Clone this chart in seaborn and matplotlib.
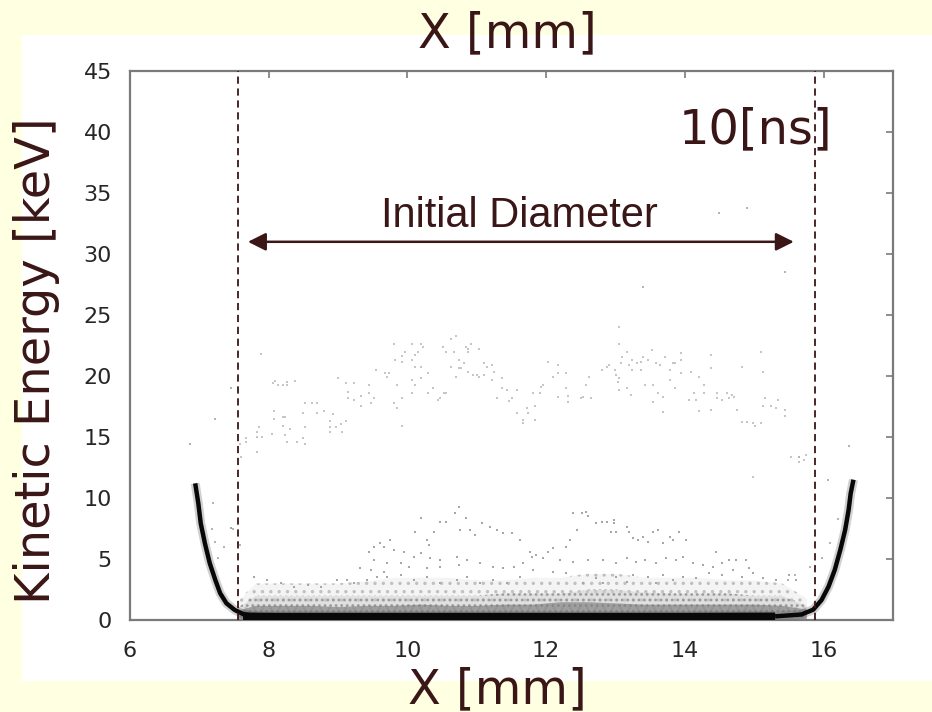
import numpy as np
import pandas as pd
import matplotlib
matplotlib.use("Agg")
import matplotlib.pyplot as plt
from matplotlib.patches import Rectangle
import seaborn as sns

# ---- particle snapshot at 10 ns: kinetic energy [keV] vs position X [mm] ----

# sparse fast particles, 13-24 keV band (x [mm], E [keV])
upper_cloud = [
    (7.89, 21.78), (7.58, 14.43), (7.60, 13.39), (7.67, 14.89), (7.67, 14.62), (7.83, 15.44), (7.83, 15.03),
    (7.86, 15.85), (7.83, 13.77), (7.90, 15.03), (8.05, 15.22), (8.08, 16.45), (8.08, 17.16), (8.06, 19.45),
    (8.09, 19.62), (8.13, 19.26), (8.20, 19.26), (8.27, 19.54), (8.27, 19.26), (8.38, 19.59), (8.20, 16.67),
    (8.23, 16.67), (8.20, 15.90), (8.23, 15.16), (8.27, 14.62), (8.30, 15.63), (8.41, 14.62), (8.49, 14.89),
    (8.52, 14.40), (8.52, 15.85), (8.49, 16.94), (8.52, 17.76), (8.63, 17.76), (8.70, 17.76), (8.70, 16.94),
    (8.79, 17.16), (8.89, 16.34), (8.89, 15.85), (8.89, 15.44), (8.97, 15.85), (9.04, 16.07), (9.05, 15.44),
    (9.11, 16.34), (8.93, 16.89), (9.00, 19.86), (9.11, 19.45), (9.15, 18.72), (9.15, 18.17), (9.23, 19.45),
    (9.23, 18.03), (9.33, 18.36), (9.33, 17.54), (9.44, 19.26), (9.44, 18.63), (9.48, 17.76), (9.52, 18.17),
    (9.55, 20.49), (9.68, 20.22), (9.71, 19.89), (9.74, 20.27), (9.81, 22.60), (9.82, 21.31), (9.85, 19.26),
    (9.81, 17.76), (9.85, 17.35), (9.92, 21.17), (9.92, 18.22), (9.92, 15.90), (9.92, 21.64), (9.96, 21.99),
    (10.07, 22.60), (10.07, 21.31), (10.07, 19.67), (10.07, 18.58), (10.11, 19.26), (10.11, 20.76),
    (10.11, 21.72), (10.15, 21.99), (10.19, 22.60), (10.22, 22.40), (10.19, 20.76), (10.19, 19.81),
    (10.29, 20.22), (10.29, 18.58), (10.37, 19.04), (10.44, 18.03), (10.47, 18.22), (10.52, 18.63),
    (10.56, 18.63), (10.51, 22.40), (10.56, 21.99), (10.63, 23.01), (10.70, 23.28), (10.63, 20.76),
    (10.67, 21.99), (10.70, 19.89), (10.74, 21.31), (10.74, 20.68), (10.77, 20.68), (10.81, 21.09),
    (10.85, 22.40), (10.88, 22.19), (10.88, 21.99), (10.92, 22.62), (10.88, 20.36), (10.95, 20.08),
    (11.03, 22.19), (11.00, 20.08), (11.03, 19.89), (11.11, 20.08), (11.11, 21.04), (11.14, 20.71),
    (11.22, 20.90), (11.22, 19.67), (11.25, 20.30), (11.29, 18.22), (11.36, 19.81), (11.36, 19.04),
    (11.43, 18.85), (11.47, 17.95), (11.50, 18.22), (11.58, 18.85), (11.58, 16.94), (11.66, 16.39),
    (11.66, 16.12), (11.72, 17.35), (11.74, 16.94), (11.81, 18.63), (11.84, 17.54), (11.84, 16.39),
    (11.91, 18.63), (11.92, 19.13), (11.96, 19.26), (12.03, 21.12), (12.10, 19.89), (12.17, 20.90),
    (12.17, 20.22), (12.17, 18.31), (12.28, 20.22), (12.28, 18.99), (12.32, 18.36), (12.32, 17.90),
    (12.50, 18.17), (12.53, 18.25), (12.58, 19.26), (12.62, 19.89), (12.65, 18.17), (12.80, 20.49),
    (12.87, 20.71), (12.91, 20.90), (12.99, 20.49), (13.01, 20.08), (13.03, 19.54), (13.05, 19.81),
    (13.05, 18.85), (13.08, 21.09), (13.10, 21.53), (13.17, 21.99), (13.17, 18.99), (13.20, 20.90),
    (13.23, 18.44), (13.24, 21.31), (13.24, 20.49), (13.31, 21.04), (13.36, 21.12), (13.36, 20.49),
    (13.40, 21.53), (13.43, 19.26), (13.47, 21.31), (13.53, 22.13), (13.54, 19.26), (13.54, 17.90),
    (13.58, 21.04), (13.61, 18.63), (13.64, 20.90), (13.68, 18.31), (13.68, 17.08), (13.72, 21.53),
    (13.79, 20.49), (13.79, 19.67), (13.83, 21.09), (13.86, 21.04), (13.86, 18.99), (13.94, 21.86),
    (13.94, 21.31), (13.94, 20.22), (14.06, 18.03), (14.09, 20.30), (14.13, 18.63), (14.16, 18.03),
    (14.20, 19.89), (14.20, 17.16), (14.27, 19.26), (14.28, 18.63), (14.38, 21.72), (14.38, 20.63),
    (14.38, 17.21), (14.46, 18.63), (14.46, 18.17), (14.54, 18.03), (14.60, 18.63), (14.64, 18.17),
    (14.68, 18.44), (14.71, 18.25), (14.75, 17.21), (14.83, 20.76), (14.83, 16.26), (14.90, 16.26),
    (14.98, 16.12), (15.01, 15.90), (15.09, 21.99), (15.09, 16.12), (15.12, 20.30), (15.12, 17.54),
    (15.16, 18.22), (15.24, 17.54), (15.31, 17.35), (15.34, 18.03), (15.45, 17.21), (15.45, 16.72),
    (15.53, 13.39), (15.64, 12.98), (15.71, 13.11), (15.75, 13.52), (14.98, 11.75), (13.05, 23.99),
    (13.05, 22.62),
]

# isolated particles far from the main populations
stray_points = [
    (14.49, 33.4), (14.89, 33.8), (15.44, 28.5), (13.39, 27.3), (6.86, 14.4), (7.22, 16.5),
    (7.45, 19.0), (16.37, 14.3), (15.64, 13.4), (7.20, 9.56), (7.18, 7.43), (7.23, 6.42),
    (7.35, 6.01), (7.49, 7.43), (7.59, 6.15), (7.27, 5.06), (16.07, 11.48), (16.21, 8.25),
    (15.97, 5.05), (15.80, 4.37), (15.59, 3.69), (15.49, 3.28), (16.09, 6.28),
]

# moderately energetic particles, 3-9 keV
middle_cloud = [
    (10.74, 9.29), (10.69, 8.75), (10.85, 8.34), (10.19, 8.34), (10.47, 8.06), (10.55, 8.06), (11.07, 7.93),
    (11.19, 7.65), (11.29, 7.38), (11.38, 7.11), (11.50, 7.11), (11.62, 6.56), (10.11, 7.25), (10.38, 7.25),
    (10.28, 6.56), (10.31, 6.15), (10.76, 7.38), (10.90, 7.38), (10.98, 6.97), (9.75, 6.56), (9.61, 6.29),
    (9.66, 6.02), (9.52, 6.02), (9.44, 5.61), (9.80, 5.74), (9.95, 5.61), (10.09, 5.20), (10.19, 5.47),
    (10.33, 5.06), (10.47, 4.92), (10.71, 5.20), (10.86, 4.92), (11.05, 4.65), (11.24, 4.38), (11.38, 4.24),
    (11.53, 4.38), (9.52, 4.92), (9.71, 4.65), (9.90, 4.65), (10.02, 4.38), (10.28, 4.24), (10.47, 4.38),
    (10.74, 4.51), (9.32, 4.24), (9.47, 4.10), (9.66, 3.96), (7.55, 6.29), (7.46, 7.52), (7.79, 3.56),
    (7.98, 3.28), (8.17, 3.01), (8.37, 2.74), (8.56, 2.87), (8.75, 2.74), (8.99, 3.28), (9.13, 3.28),
    (9.23, 3.01), (9.42, 3.28), (9.56, 3.56), (9.71, 3.56), (9.90, 3.69), (10.09, 3.28), (10.28, 3.56),
    (10.47, 3.01), (10.71, 3.28), (10.86, 3.56), (11.05, 3.01), (11.24, 3.28), (11.43, 3.01), (11.62, 3.56),
    (12.39, 8.74), (12.51, 8.74), (12.58, 8.88), (12.61, 8.52), (12.72, 7.93), (12.80, 8.06), (12.87, 8.06),
    (12.98, 8.20), (12.98, 7.93), (12.94, 7.24), (13.01, 7.24), (13.16, 7.65), (13.20, 7.24), (13.25, 6.69),
    (13.32, 6.56), (13.40, 6.83), (13.47, 6.42), (13.54, 7.24), (13.61, 7.38), (13.68, 6.28), (13.78, 6.83),
    (13.83, 6.56), (13.92, 7.24), (14.02, 6.56), (12.44, 7.38), (12.34, 6.56), (12.29, 6.01), (12.10, 5.87),
    (12.03, 5.60), (11.86, 5.33), (11.77, 5.60), (11.67, 4.64), (11.79, 5.19), (11.96, 5.05), (12.20, 4.92),
    (12.39, 4.78), (12.61, 4.92), (12.82, 4.92), (13.01, 4.64), (13.16, 5.05), (13.30, 4.78), (13.42, 4.92),
    (13.59, 4.64), (13.73, 5.05), (13.87, 4.92), (13.97, 5.19), (14.11, 4.64), (14.26, 4.51), (14.45, 5.60),
    (14.54, 4.64), (14.64, 4.92), (14.74, 4.92), (14.88, 4.92), (14.93, 4.24), (14.98, 3.82), (14.40, 4.37),
    (14.69, 4.10), (11.81, 4.10), (12.10, 3.96), (12.29, 3.82), (12.72, 3.41), (13.01, 3.55), (13.25, 3.69),
    (13.47, 3.55), (13.68, 3.69), (13.97, 3.55), (14.16, 3.41), (14.35, 3.82), (14.54, 3.69), (14.83, 3.55),
    (15.12, 3.41), (15.31, 3.28), (15.50, 3.69), (15.60, 3.28), (12.53, 3.00), (12.82, 3.00), (13.16, 3.14),
    (13.59, 3.00), (13.83, 3.28),
]

# dense cold population: left wall, bulk at rest, right wall
left_wall = [
    (6.94, 11.2), (6.985, 9.56), (7.02, 7.92), (7.08, 6.28), (7.15, 4.65), (7.23, 3.28), (7.30, 2.19),
    (7.39, 1.37), (7.51, 0.82), (7.63, 0.49), (7.83, 0.30),
]
bulk_floor = [(7.63, 0.30), (8.16, 0.28), (10.0, 0.28), (12.0, 0.28), (14.0, 0.28), (15.30, 0.30)]
right_wall = [
    (15.30, 0.30), (15.68, 0.45), (15.85, 0.85), (15.97, 1.64), (16.07, 2.73), (16.16, 4.10),
    (16.24, 5.74), (16.31, 7.38), (16.36, 9.02), (16.39, 10.38), (16.43, 11.5),
]

# low-energy haze above the bulk: upper edges of three density levels
haze_x = [7.55, 7.8, 8.2, 8.6, 9.0, 9.4, 9.8, 10.2, 10.6, 11.0, 11.4, 11.8, 12.2, 12.6, 13.0, 13.4,
          13.8, 14.2, 14.6, 15.0, 15.4, 15.75]
haze_sparse = [1.5, 3.0, 3.0, 3.0, 3.0, 3.2, 3.5, 3.5, 3.5, 3.3, 3.3, 3.5, 3.5, 3.8, 3.8, 3.5,
               3.5, 3.5, 3.3, 3.3, 3.0, 1.8]
haze_medium = [1.0, 2.0, 2.0, 2.0, 2.0, 2.0, 2.0, 2.0, 2.0, 2.0, 2.2, 2.2, 2.2, 2.5, 2.5, 2.3,
               2.2, 2.2, 2.2, 2.0, 2.0, 1.2]
haze_dense = [0.8, 1.2, 1.2, 1.2, 1.1, 1.2, 1.2, 1.3, 1.2, 1.2, 1.3, 1.3, 1.5, 1.5, 1.4, 1.3,
              1.3, 1.3, 1.3, 1.3, 1.2, 0.9]

# initial plasma boundary [mm] and arrow height [keV]
initial_edges = [7.56, 15.87]
arrow_span = (7.70, 15.57)
arrow_level = 31.0

x_ticks = [6, 8, 10, 12, 14, 16]
y_ticks = [0, 5, 10, 15, 20, 25, 30, 35, 40, 45]

# ---- styling ----
sns.set_theme(style="white")
plt.rcParams["font.family"] = ["DejaVu Sans"]
plt.rcParams["hatch.linewidth"] = 1.2

ink = "#3a1616"
page = "#FFFFE1"
frame = "#7a7a7a"

W, H = 932, 712
fig = plt.figure(figsize=(W / 100, H / 100), dpi=100, facecolor=page)
fig.patches.append(Rectangle((22 / W, (H - 681) / H), (W - 22) / W, (681 - 35) / H,
                             transform=fig.transFigure, facecolor="white",
                             edgecolor="none", zorder=-5))

ax = fig.add_axes([130 / W, (H - 620) / H, 763 / W, 549 / H])
ax.set_facecolor("white")


def frame_of(points):
    arr = np.array(points)
    return pd.DataFrame({"x": arr[:, 0], "y": arr[:, 1]})


# haze layers: light fill plus a dotted texture for the speckled look
ax.fill_between(haze_x, 0, haze_sparse, color="#eeeeee", lw=0, alpha=0.6, zorder=1)
ax.fill_between(haze_x, 0, haze_sparse, facecolor="none", edgecolor="#c0c0c0", hatch="..",
                lw=0, zorder=1)
ax.fill_between(haze_x, 0, haze_medium, color="#cdcdcd", lw=0, alpha=0.5, zorder=1)
ax.fill_between(haze_x, 0, haze_medium, facecolor="none", edgecolor="#9a9a9a", hatch="...",
                lw=0, zorder=1)
ax.fill_between(haze_x, 0, haze_dense, color="#7d7d7d", lw=0, alpha=0.65, zorder=1)

# particle scatter
sns.scatterplot(data=frame_of(upper_cloud), x="x", y="y", marker="s", s=4,
                color="#c6c6c6", linewidth=0, ax=ax, zorder=2)
sns.scatterplot(data=frame_of(middle_cloud), x="x", y="y", marker="s", s=4,
                color="#a6a6a6", linewidth=0, ax=ax, zorder=2)
sns.scatterplot(data=frame_of(stray_points), x="x", y="y", marker="s", s=4,
                color="#b4b4b4", linewidth=0, ax=ax, zorder=2)

# dense bulk and walls
for seg, core_w, halo_w in [(left_wall, 3.2, 6.5), (bulk_floor, 5.5, 8.0), (right_wall, 3.2, 6.5)]:
    seg_df = frame_of(seg)
    sns.lineplot(data=seg_df, x="x", y="y", sort=False, estimator=None, color="#666666",
                 linewidth=halo_w, alpha=0.3, ax=ax, zorder=3, solid_capstyle="butt")
    sns.lineplot(data=seg_df, x="x", y="y", sort=False, estimator=None, color="#080808",
                 linewidth=core_w, ax=ax, zorder=4, solid_capstyle="butt")

# initial diameter markers
for xv in initial_edges:
    ax.axvline(xv, color=ink, lw=1.3, ls=(0, (4.0, 2.6)), zorder=5)

ax.annotate("", xy=(arrow_span[0], arrow_level), xytext=(arrow_span[1], arrow_level),
            arrowprops=dict(arrowstyle="<|-|>", color=ink, lw=1.8, mutation_scale=27,
                            shrinkA=0, shrinkB=0), zorder=6)
ax.text(11.62, 32.2, "Initial Diameter", ha="center", va="baseline", color=ink,
        fontsize=30, family=["Liberation Sans", "DejaVu Sans"], zorder=6)

# axes
ax.set_xlim(6, 17)
ax.set_ylim(0, 45)
ax.set_xticks(x_ticks)
ax.set_yticks(y_ticks)
ax.set_xlabel("")
ax.set_ylabel("")
for side in ["left", "right", "top", "bottom"]:
    ax.spines[side].set_visible(True)
    ax.spines[side].set_color(frame)
    ax.spines[side].set_linewidth(1.6)
ax.tick_params(axis="both", which="both", direction="in", length=5, width=1.2,
               color=frame, top=True, right=True, labelsize=16, labelcolor="#262626")
ax.tick_params(axis="y", pad=13)
ax.tick_params(axis="x", pad=15)

# figure titles
fig.text(507 / W, (H - 47) / H, "X [mm]", ha="center", va="baseline", color=ink, fontsize=34.5)
fig.text(497 / W, (H - 703) / H, "X [mm]", ha="center", va="baseline", color=ink, fontsize=34.5)
fig.text(37 / W, (H - 361) / H, "Kinetic Energy [keV]", rotation=90, ha="center", va="center",
         color=ink, fontsize=34.5)
fig.text(755 / W, (H - 143) / H, "10[ns]", ha="center", va="baseline", color=ink, fontsize=34.5)

fig.savefig("out.png", dpi=100, facecolor=page)
